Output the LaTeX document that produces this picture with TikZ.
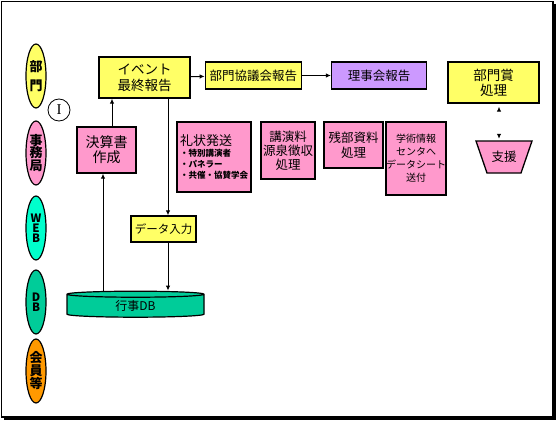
\documentclass[tikz,border=0pt]{standalone}
\usepackage{fontspec}
\setmainfont{Noto Sans CJK JP}
\newfontfamily\romanI{Liberation Serif}
\usetikzlibrary{positioning, arrows.meta, shapes.geometric, calc}
\definecolor{memoyellow}{HTML}{FFFF66}
\definecolor{memopink}{HTML}{FF99CC}
\definecolor{memopurple}{HTML}{CC99FF}
\definecolor{webcyan}{HTML}{00FFCC}
\definecolor{dbgreen}{HTML}{00CC99}
\definecolor{memberorange}{HTML}{FF9900}

\begin{document}
\begin{tikzpicture}[x=1pt, y=-1pt, >={Latex[length=5pt,width=4.5pt]},
		lane/.style={draw, line width=1.2pt, ellipse, minimum width=20pt, minimum height=64pt, inner sep=0pt, align=center, font=\bfseries\fontsize{13}{12.5}\selectfont},
		box/.style={draw, line width=1.3pt, rectangle, inner sep=0pt, align=center, font=\fontsize{12.5}{14}\selectfont},
		flow/.style={->, line width=1pt}]
			\useasboundingbox (0,0) rectangle (556,420);
			\fill (4,4) rectangle (556,420);
			\draw[fill=white, line width=1.2pt] (1.5,1.5) rectangle (553,417);

			\node (bumon) [lane, fill=memoyellow] at (36,76) {部\\[7pt]門};
			\node (jimu) [lane, fill=memopink] at (36,153) {事\\務\\局};
			\node (web) [lane, fill=webcyan, font=\bfseries\fontsize{11.5}{10}\selectfont] at (36,228) {W\\E\\B};
			\node (db) [lane, fill=dbgreen, font=\bfseries\fontsize{11.5}{10}\selectfont] at (36,302) {D\\B};
			\node (kaiin) [lane, fill=memberorange] at (36,371) {会\\員\\等};
			\node (phase) [draw, line width=0.8pt, circle, minimum size=22pt, inner sep=0pt, font=\romanI\fontsize{15}{15}\selectfont] at (59,110) {I};

			\node (event) [box, fill=memoyellow, minimum width=91pt, minimum height=41pt, font=\fontsize{13.5}{16}\selectfont] at (144.5,77.5) {イベント\\最終報告};
			\node (bukyo) [box, fill=memoyellow, minimum width=96pt, minimum height=27pt, right=14pt of event, yshift=2pt] {部門協議会報告};
			\node (rijikai) [box, fill=memopurple, minimum width=95pt, minimum height=27pt, right=29pt of bukyo] {理事会報告};
			\node (shou) [box, fill=memoyellow, minimum width=91pt, minimum height=41pt, font=\fontsize{13.5}{15}\selectfont] at (493.5,82.5) {部門賞\\処理};
			\coordinate (shienc) at (504,157);
			\filldraw[fill=memopink, line width=1.3pt, line join=miter] ($(shienc)+(-28,-16)$) -- ($(shienc)+(28,-16)$) -- ($(shienc)+(17,16)$) -- ($(shienc)+(-17,16)$) -- cycle;
			\node (shien) [minimum width=56pt, minimum height=32pt, inner sep=0pt, font=\fontsize{12.5}{14}\selectfont] at (shienc) {支援};

			\node (kessan) [box, fill=memopink, minimum width=59pt, minimum height=46pt, font=\fontsize{14}{15}\selectfont] at (106.5,150) {決算書\\作成};
			\node (reijo) [box, fill=memopink, minimum width=74pt, minimum height=70pt, align=left, font=\fontsize{8.5}{11}\selectfont\bfseries] at (214,157) {{\mdseries\fontsize{13}{14}\selectfont 礼状発送}\\・特別講演者\\・パネラー\\・共催・協賛学会};
			\node (kouen) [box, fill=memopink, minimum width=54pt, minimum height=57pt] at (288,150.5) {講演料\\源泉徴収\\処理};
			\node (zanbu) [box, fill=memopink, minimum width=59pt, minimum height=46pt, font=\fontsize{12.5}{15}\selectfont] at (353.5,145) {残部資料\\処理};
			\node (gakujutsu) [box, fill=memopink, minimum width=56pt, minimum height=73pt, font=\fontsize{10}{13}\selectfont] at (416,158.5) {学術情報\\センタへ\\データシート\\送付};

			\node (data) [box, fill=memoyellow, minimum width=65pt, minimum height=26pt, font=\fontsize{11.5}{13}\selectfont] at (163.5,229) {データ入力};
			\node (gyoji) [draw, line width=1.2pt, fill=dbgreen, cylinder, shape border rotate=90, aspect=0.15, minimum width=137pt, minimum height=26pt, inner sep=0pt, font=\fontsize{12}{13}\selectfont] at (135.5,306) {行事DB};

			\draw[flow] ([xshift=5.5pt]kessan.north) -- ([xshift=5.5pt]kessan.north |- event.south);
			\draw[flow] ([xshift=-3.5pt]kessan.south |- gyoji.north) -- ([xshift=-3.5pt]kessan.south);
			\draw[flow] ([xshift=23.5pt]event.south) -- ([xshift=23.5pt]event.south |- data.north);
			\draw[flow] ([xshift=23.5pt]event.south |- data.south) -- ([xshift=23.5pt]event.south |- gyoji.north);
			\draw[flow] (event) -- (bukyo);
			\draw[flow] (bukyo) -- (rijikai);
			\draw[line width=1pt, white, {Latex[length=5pt,width=4.5pt,black]}-{Latex[length=5pt,width=4.5pt,black]}, shorten <=3pt, shorten >=2pt] ([xshift=5.5pt]shou.south) -- ([xshift=5.5pt]shou.south |- shien.north);
		\end{tikzpicture}
\end{document}
